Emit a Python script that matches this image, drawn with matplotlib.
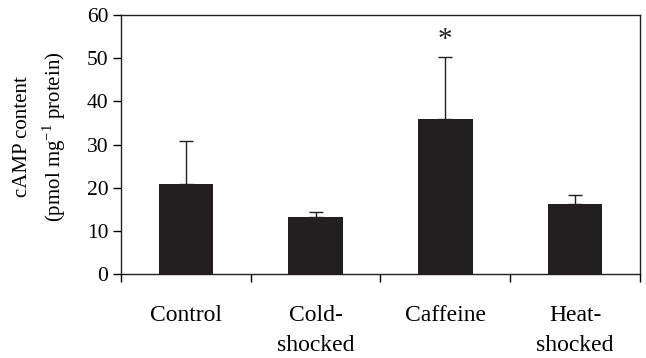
import matplotlib
matplotlib.use("Agg")
import matplotlib.pyplot as plt
import numpy as np

categories = ["Control", "Cold-\nshocked", "Caffeine", "Heat-\nshocked"]
means = [21.0, 13.2, 35.9, 16.2]
errors_up = [9.9, 1.2, 14.5, 2.2]
significant = [False, False, True, False]
y_ticks = [0, 10, 20, 30, 40, 50, 60]

plt.rcParams["font.family"] = ["Liberation Serif", "DejaVu Serif"]
plt.rcParams["mathtext.fontset"] = "custom"
plt.rcParams["mathtext.rm"] = "Liberation Serif"

fig = plt.figure(figsize=(6.46, 3.58), dpi=100)
ax = fig.add_axes([0.1873, 0.2338, 0.8034, 0.7242])

x = np.arange(len(categories))
bar_color = "#231f20"
ax.bar(x, means, width=0.42, color=bar_color, zorder=2)
lower = np.zeros(len(means))
ax.errorbar(x, means, yerr=[lower, errors_up], fmt="none", ecolor=bar_color,
            elinewidth=1.0, capsize=5, capthick=1.0, zorder=3)

for xi, m, e, s in zip(x, means, errors_up, significant):
    if s:
        ax.text(xi, m + e + 0.8, "*", ha="center", va="bottom", fontsize=21,
                color=bar_color)

ax.set_xlim(-0.5, len(categories) - 0.5)
ax.set_ylim(0, 60)
ax.set_yticks(y_ticks)
ax.set_yticklabels([str(v) for v in y_ticks], fontsize=15.5)

# group boundaries as major ticks, category names on minor ticks
ax.set_xticks(np.arange(len(categories) + 1) - 0.5)
ax.set_xticklabels([])
ax.set_xticks(x, minor=True)
ax.set_xticklabels(categories, minor=True, fontsize=17, linespacing=1.6)
ax.tick_params(axis="x", which="minor", length=0, pad=22)
ax.tick_params(axis="x", which="major", direction="out", length=6, width=1.0)
ax.tick_params(axis="y", direction="out", length=6, width=1.0, pad=3)

for sp in ax.spines.values():
    sp.set_linewidth(1.0)
    sp.set_color("#231f20")

ax.set_ylabel("cAMP content\n(pmol mg$^{-1}$ protein)", fontsize=15,
              linespacing=1.4)
ax.yaxis.set_label_coords(-0.103, 0.53)

fig.savefig("out.png", dpi=100)
